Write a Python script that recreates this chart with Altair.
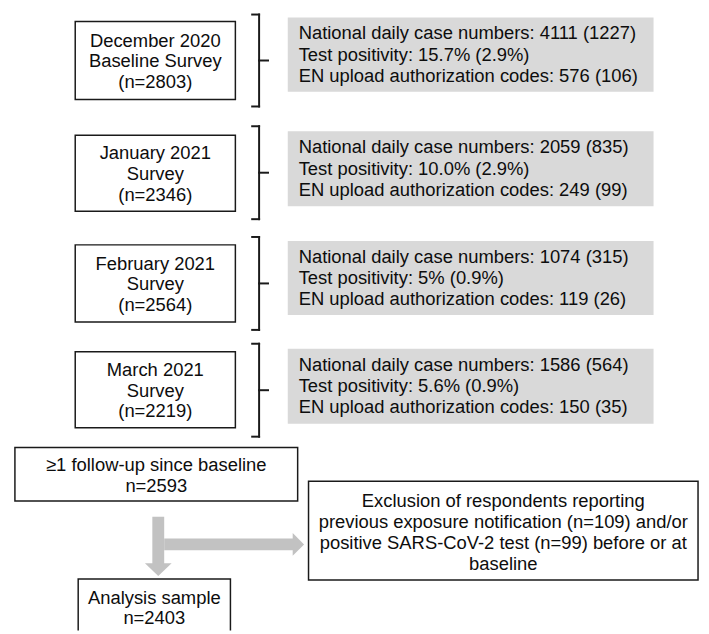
import altair as alt
import pandas as pd

# ---------------- data ----------------
survey_names = ["December 2020", "January 2021", "February 2021", "March 2021"]
survey_types = ["Baseline Survey", "Survey", "Survey", "Survey"]
survey_n = [2803, 2346, 2564, 2219]
daily_cases = [4111, 2059, 1074, 1586]
daily_cases_sd = [1227, 835, 315, 564]
test_positivity = ["15.7%", "10.0%", "5%", "5.6%"]
test_positivity_sd = ["2.9%", "2.9%", "0.9%", "0.9%"]
en_codes = [576, 249, 119, 150]
en_codes_sd = [106, 99, 26, 35]
followup_n = 2593
excluded_notification_n = 109
excluded_test_n = 99
analysis_n = 2403

# ---------------- layout (picture pixels) ----------------
FONT = "Liberation Sans"
FS = 18.6
X0, Y0 = 8, 8
W, H = 701, 626
xs = alt.Scale(domain=[X0, X0 + W], nice=False, zero=False)
ys = alt.Scale(domain=[Y0 + H, Y0], nice=False, zero=False)

box_left, box_right = 76, 238
row_box_top = [18, 133, 244, 352]
row_box_bottom = [97, 210, 322, 429]
gray_left, gray_right = 291, 661
row_gray_top = [14, 129, 240, 349]
row_gray_bottom = [89, 205, 315, 425]
brace_x, brace_hook_x, brace_tick_x = 262, 255, 271
row_brace_top = [11, 124, 236, 344]
row_brace_bottom = [104, 218, 330, 438]

BORDER = "#1a1a1a"
GRAY = "#d9d9d9"
ARROW = "#c2c2c2"
TEXT = "#0d0d0d"

rects, t_center, t_left, rules = [], [], [], []
for i in range(4):
    rects.append(dict(x=box_left, x2=box_right, y=row_box_top[i], y2=row_box_bottom[i],
                      fill="white", stroke=BORDER, sw=1.5))
    rects.append(dict(x=gray_left, x2=gray_right, y=row_gray_top[i], y2=row_gray_bottom[i],
                      fill=GRAY, stroke=GRAY, sw=0))
    cy = (row_box_top[i] + row_box_bottom[i]) / 2 + 1
    for j, t in enumerate([survey_names[i], survey_types[i], f"(n={survey_n[i]})"]):
        t_center.append(dict(x=(box_left + box_right) / 2, y=cy + (j - 1) * 21, text=t))
    gy = (row_gray_top[i] + row_gray_bottom[i]) / 2
    glines = [
        f"National daily case numbers: {daily_cases[i]} ({daily_cases_sd[i]})",
        f"Test positivity: {test_positivity[i]} ({test_positivity_sd[i]})",
        f"EN upload authorization codes: {en_codes[i]} ({en_codes_sd[i]})",
    ]
    for j, t in enumerate(glines):
        t_left.append(dict(x=gray_left + 11, y=gy + (j - 1) * 21.5, text=t))
    top, bot = row_brace_top[i], row_brace_bottom[i]
    mid = (top + bot) / 2
    rules += [
        dict(x=brace_hook_x, x2=brace_x, y=top, y2=top),
        dict(x=brace_x, x2=brace_x, y=top, y2=bot),
        dict(x=brace_hook_x, x2=brace_x, y=bot, y2=bot),
        dict(x=brace_x, x2=brace_tick_x, y=mid, y2=mid),
    ]

# follow-up box
fu = dict(x=15, x2=301, y=449, y2=503)
rects.append(dict(**fu, fill="white", stroke=BORDER, sw=1.5))
for j, t in enumerate(["\u22651 follow-up since baseline", f"n={followup_n}"]):
    t_center.append(dict(x=(fu["x"] + fu["x2"]) / 2, y=467 + j * 20.5, text=t))

# exclusion box
ex = dict(x=312, x2=706, y=483, y2=583)
rects.append(dict(**ex, fill="white", stroke=BORDER, sw=1.5))
ex_lines = [
    "Exclusion of respondents reporting",
    f"previous exposure notification (n={excluded_notification_n}) and/or",
    f"positive SARS-CoV-2 test (n={excluded_test_n}) before or at",
    "baseline",
]
for j, t in enumerate(ex_lines):
    t_center.append(dict(x=(ex["x"] + ex["x2"]) / 2, y=503 + j * 21.3, text=t))

# analysis box (runs off the bottom)
an = dict(x=79, x2=233, y=582, y2=660)
an_rect = [dict(**an, fill="white", stroke=BORDER, sw=1.5)]
for j, t in enumerate(["Analysis sample", f"n={analysis_n}"]):
    t_center.append(dict(x=(an["x"] + an["x2"]) / 2, y=601 + j * 21, text=t))

# arrows
stems = [
    dict(x=154, x2=166, y=519, y2=567),   # vertical stem
    dict(x=166, x2=297, y=541, y2=553),   # horizontal stem
]
head_right = [dict(x=296, y=535.5, y2=558.5), dict(x=307.5, y=547, y2=547)]
head_down = [dict(y=566, x=146.5, x2=173.5), dict(y=579, x=160, x2=160)]

X = lambda f="x": alt.X(f"{f}:Q", scale=xs, axis=None)
Y = lambda f="y": alt.Y(f"{f}:Q", scale=ys, axis=None)

stem_layer = alt.Chart(pd.DataFrame(stems)).mark_rect(color=ARROW).encode(
    x=X(), x2="x2:Q", y=Y(), y2="y2:Q")
head_r_layer = alt.Chart(pd.DataFrame(head_right)).mark_area(
    color=ARROW, orient="vertical").encode(x=X(), y=Y(), y2="y2:Q")
head_d_layer = alt.Chart(pd.DataFrame(head_down)).mark_area(
    color=ARROW, orient="horizontal").encode(y=Y(), x=X(), x2="x2:Q")

rect_layer = alt.Chart(pd.DataFrame(rects)).mark_rect().encode(
    x=X(), x2="x2:Q", y=Y(), y2="y2:Q",
    fill=alt.Fill("fill:N", scale=None),
    stroke=alt.Stroke("stroke:N", scale=None),
    strokeWidth=alt.StrokeWidth("sw:Q", scale=None),
)
an_layer = alt.Chart(pd.DataFrame(an_rect)).mark_rect(
    fill="white", stroke=BORDER, strokeWidth=1.5, clip=True).encode(
    x=X(), x2="x2:Q", y=Y(), y2="y2:Q")

rule_layer = alt.Chart(pd.DataFrame(rules)).mark_rule(
    color=BORDER, strokeWidth=2, strokeCap="square").encode(
    x=X(), x2="x2:Q", y=Y(), y2="y2:Q")

tc_layer = alt.Chart(pd.DataFrame(t_center)).mark_text(
    font=FONT, fontSize=FS, align="center", baseline="middle", color=TEXT).encode(
    x=X(), y=Y(), text="text:N")
tl_layer = alt.Chart(pd.DataFrame(t_left)).mark_text(
    font=FONT, fontSize=FS, align="left", baseline="middle", color=TEXT).encode(
    x=X(), y=Y(), text="text:N")

chart = alt.layer(
    stem_layer, head_r_layer, head_d_layer, rect_layer, an_layer, rule_layer,
    tc_layer, tl_layer,
).properties(
    width=W, height=H, padding=0, autosize=alt.AutoSizeParams(type="none"),
    background="white",
).configure_view(strokeWidth=0)

chart.save("out.html", embed_options={"renderer": "svg", "actions": False})
